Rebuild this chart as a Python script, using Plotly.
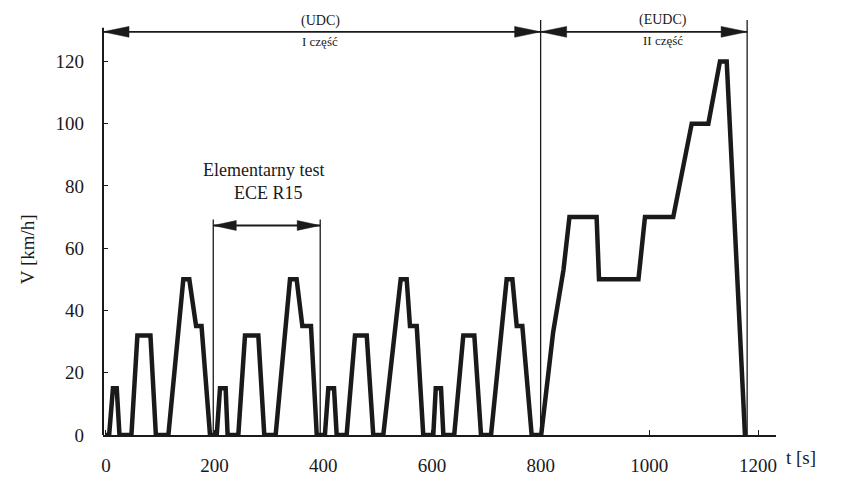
import plotly.graph_objects as go

# ---- data ----
t_s = [0, 6, 13, 20, 25, 47, 58, 82, 92, 115, 142.5, 153.5, 166, 176, 191.6,
       204, 210, 220.4, 224, 243.7, 256, 280.5, 291.5, 312.4, 338.8, 351, 361.5, 377.4, 388,
       403, 409.3, 419.8, 424.7, 443, 458.4, 480, 492, 510.5, 542.5, 553.5, 559.6, 572, 584,
       602.5, 607, 616.7, 621, 641, 657.7, 678, 690.3, 708.7, 737.5, 748, 756, 766.3, 783.5,
       801, 823, 842, 853, 903, 907.4, 980, 992, 1044, 1078, 1108.6, 1130, 1142.4, 1176, 1180]
v_kmh = [0, 0, 15, 15, 0, 0, 32, 32, 0, 0, 50, 50, 35, 35, 0,
         0, 15, 15, 0, 0, 32, 32, 0, 0, 50, 50, 35, 35, 0,
         0, 15, 15, 0, 0, 32, 32, 0, 0, 50, 50, 35, 35, 0,
         0, 15, 15, 0, 0, 32, 32, 0, 0, 50, 50, 35, 35, 0,
         0, 33, 53, 70, 70, 50, 50, 70, 70, 100, 100, 120, 120, 0, 0]

x_ticks = [0, 200, 400, 600, 800, 1000, 1200]
y_ticks = [0, 20, 40, 60, 80, 100, 120]

udc_bounds = [0, 800]
eudc_bounds = [800, 1180]
ece_bounds = [197.6, 394.4]

# ---- geometry ----
W, H = 851, 488
ML, MR, MT, MB = 103, 75, 20, 48
X_RANGE = [-5.3, 1233.1]
Y_RANGE = [0, 133.3]
XS = (W - ML - MR) / (X_RANGE[1] - X_RANGE[0])   # px per second
YS = (H - MT - MB) / (Y_RANGE[1] - Y_RANGE[0])   # px per km/h

FONT = "Liberation Serif"
INK = "#1a1a1a"

fig = go.Figure()
fig.add_trace(go.Scatter(x=t_s, y=v_kmh, mode="lines",
                         line=dict(color=INK, width=4.5), showlegend=False))

shapes = []
# y axis line (stops short of the top)
shapes.append(dict(type="line", xref="paper", yref="y", x0=0, x1=0, y0=0, y1=130.8,
                   line=dict(color=INK, width=2)))
# vertical separators
for xv in [eudc_bounds[0], eudc_bounds[1]]:
    shapes.append(dict(type="line", xref="x", yref="y", x0=xv, x1=xv, y0=0, y1=Y_RANGE[1],
                       line=dict(color=INK, width=1.3)))
ECE_TOP = 69.2
for xv in ece_bounds:
    shapes.append(dict(type="line", xref="x", yref="y", x0=xv, x1=xv, y0=0, y1=ECE_TOP,
                       line=dict(color=INK, width=1.3)))


def double_arrow(x0, x1, y, L, Hh, lw):
    out = [dict(type="line", xref="x", yref="y", x0=x0, x1=x1, y0=y, y1=y,
                line=dict(color=INK, width=lw))]
    for tip, d in [(x0, -1), (x1, 1)]:
        base = tip - d * L / XS
        hy = Hh / 2 / YS
        out.append(dict(type="path", xref="x", yref="y",
                        path=f"M {tip},{y} L {base},{y + hy} L {base},{y - hy} Z",
                        fillcolor=INK, line=dict(color=INK, width=0.5)))
    return out


TOP_Y = 129.5
shapes += double_arrow(X_RANGE[0], udc_bounds[1], TOP_Y, 26, 11, 1.8)
shapes += double_arrow(eudc_bounds[0], eudc_bounds[1], TOP_Y, 26, 11, 1.8)
shapes += double_arrow(ece_bounds[0], ece_bounds[1], 67.3, 23, 10, 1.8)


def px(xp, yp):
    return (xp - ML) / (W - ML - MR), (H - MB - yp) / (H - MT - MB)


annotations = []


def txt(s, xp, yp, size, angle=0):
    x, y = px(xp, yp)
    annotations.append(dict(text=s, x=x, y=y, xref="paper", yref="paper", showarrow=False,
                            xanchor="center", yanchor="middle", textangle=angle,
                            font=dict(family=FONT, size=size, color=INK)))


txt("(UDC)", 320, 21, 14)
txt("I część", 320, 42, 13)
txt("(EUDC)", 663, 20, 14)
txt("II część", 663, 41, 13)
txt("Elementarny test", 263, 172, 18)
txt("ECE R15", 268, 195, 18)
txt("t [s]", 801, 463, 19)
txt("V [km/h]", 27, 252, 19, -90)

fig.update_layout(
    width=W, height=H,
    margin=dict(l=ML, r=MR, t=MT, b=MB, pad=0),
    paper_bgcolor="white", plot_bgcolor="white",
    shapes=shapes, annotations=annotations,
    font=dict(family=FONT, color=INK),
    xaxis=dict(range=X_RANGE, tickvals=x_ticks, ticktext=[str(v) for v in x_ticks],
               showgrid=False, zeroline=False, showline=True, linecolor=INK, linewidth=2,
               ticks="inside", ticklen=5, tickwidth=1.3, tickcolor=INK,
               tickfont=dict(family=FONT, size=19, color=INK), ticklabelstandoff=12),
    yaxis=dict(range=Y_RANGE, tickvals=y_ticks, ticktext=[str(v) for v in y_ticks],
               showgrid=False, zeroline=False, showline=False,
               ticks="inside", ticklen=5, tickwidth=1.3, tickcolor=INK,
               tickfont=dict(family=FONT, size=19, color=INK), ticklabelstandoff=18),
)

fig.write_html("out.html")
